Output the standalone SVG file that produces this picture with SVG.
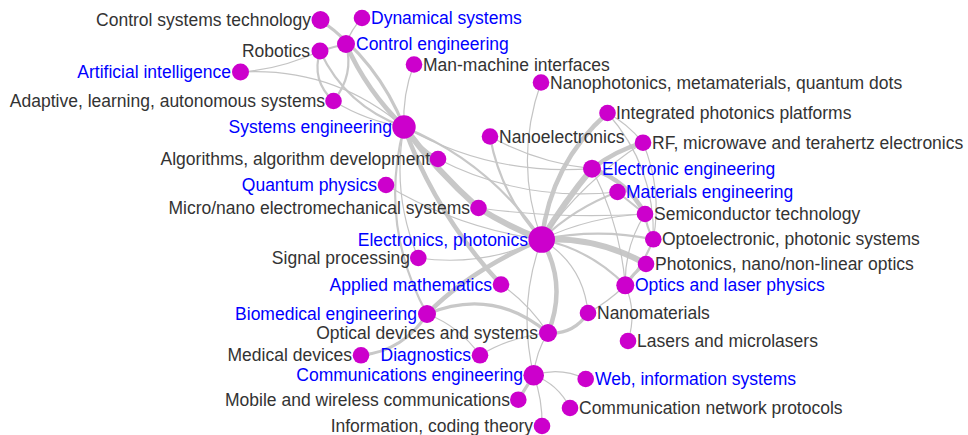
<svg xmlns="http://www.w3.org/2000/svg" width="968" height="435" viewBox="0 0 968 435">
<style>
.e{fill:none;stroke:#c8c8c8;stroke-linecap:round}
.w1{stroke-width:1.2;stroke:#c4c4c4}
.w2{stroke-width:2.2}
.w3{stroke-width:3.2}
.w4{stroke-width:4.5}
.w5{stroke-width:6}
circle{fill:#cc00cc}
text{font-family:"Liberation Sans",Arial,sans-serif;font-size:17.5px}
.d{fill:#333333}
.b{fill:#0000ff}
.r{text-anchor:end}
</style>
<rect width="968" height="435" fill="#ffffff"/>
<g id="edges">
<path class="e w3" d="M320.5,20 Q378,61 404,127"/>
<path class="e w4" d="M346,44 Q366.6,90.8 404,127"/>
<path class="e w1" d="M362,18 Q351.5,29 346,44"/>
<path class="e w2" d="M320,51 Q333,47 346,44"/>
<path class="e w2" d="M320,51 Q311,80.8 333.5,101"/>
<path class="e w2" d="M320,51 Q345.8,106.2 404,127"/>
<path class="e w1" d="M240.5,72 Q281,69.3 320,51"/>
<path class="e w1" d="M240.5,72 Q333,66.7 404,127"/>
<path class="e w2" d="M346,44 Q354.5,75 333.5,101"/>
<path class="e w1" d="M333.5,101 Q366.4,121 404,127"/>
<path class="e w1" d="M414,64.5 Q402.2,94.6 404,127"/>
<path class="e w2" d="M404,127 Q417.8,146.4 438,159"/>
<path class="e w5" d="M404,127 Q437,171.2 478.5,208"/>
<path class="e w4" d="M404,127 Q436.3,215.1 501,284.5"/>
<path class="e w2" d="M404,127 Q489.8,162.3 541.7,239.5"/>
<path class="e w5" d="M478.5,208 Q508.5,226.7 541.7,239.5"/>
<path class="e w1" d="M404,127 Q491.7,176.2 592,168.7"/>
<path class="e w1" d="M438,159 Q522,202.2 617.5,192"/>
<path class="e w1" d="M404,127 Q391.4,194.6 418.3,258"/>
<path class="e w2" d="M404,127 Q378.3,224.6 427,314"/>
<path class="e w1" d="M386,185 Q458.2,228.2 541.7,239.5"/>
<path class="e w1" d="M418.3,258 Q482.9,267.1 541.7,239.5"/>
<path class="e w1" d="M501,284.5 Q528.3,303.3 548,333"/>
<path class="e w4" d="M427,314 Q470,270 541.7,239.5"/>
<path class="e w3" d="M427,314 Q492.7,286.5 548,333"/>
<path class="e w1" d="M427,314 Q459.3,326.2 480,355.3"/>
<path class="e w3" d="M361,355.3 Q404,350.75 427,314"/>
<path class="e w1" d="M480,355.3 Q510.7,336.7 548,333"/>
<path class="e w4" d="M541.7,239.5 Q567.75,284.25 548,333"/>
<path class="e w1" d="M541.7,239.5 Q517.1,305.65 533.7,375.3"/>
<path class="e w1" d="M548,333 Q535.7,352.1 533.7,375.3"/>
<path class="e w3" d="M533.7,375.3 L518.3,399.7"/>
<path class="e w1" d="M533.7,375.3 Q542.6,399.6 542,426"/>
<path class="e w1" d="M533.7,375.3 Q559.8,366.6 585.7,379"/>
<path class="e w1" d="M533.7,375.3 Q558.1,384.1 570,408"/>
<path class="e w3" d="M548,333 Q573.2,334.8 588,313"/>
<path class="e w1" d="M541.7,239.5 Q583.5,264.5 588,313"/>
<path class="e w1" d="M588,313 Q608,302 625.3,285.3"/>
<path class="e w1" d="M625.3,285.3 Q637.2,312.6 628,341"/>
<path class="e w2" d="M541.7,239.5 Q590.4,249.5 625.3,285.3"/>
<path class="e w5" d="M541.7,239.5 Q597.4,236.55 646,264"/>
<path class="e w3" d="M646,264 Q633,273 625.3,285.3"/>
<path class="e w2" d="M541.7,239.5 Q597.5,227.9 653.3,239.3"/>
<path class="e w1" d="M541.7,239.5 Q591,216.2 645,214"/>
<path class="e w2" d="M541.7,239.5 Q574.3,208.1 617.5,192"/>
<path class="e w5" d="M541.7,239.5 Q564.7,201.5 592,168.7"/>
<path class="e w4" d="M541.7,239.5 Q551,163 607.5,113"/>
<path class="e w1" d="M541,82.5 Q513.4,161.2 541.7,239.5"/>
<path class="e w2" d="M490,136.5 Q500.55,195.3 541.7,239.5"/>
<path class="e w1" d="M541.7,239.5 Q582.9,180.9 643,142.7"/>
<path class="e w4" d="M592,168.7 Q614.9,150.9 643,142.7"/>
<path class="e w4" d="M592,168.7 Q627.5,180.9 645,214"/>
<path class="e w1" d="M607.5,113 Q655.2,166.8 653.3,239.3"/>
<path class="e w2" d="M617.5,192 L645,214"/>
<path class="e w2" d="M645,214 Q646.5,227.3 653.3,239.3"/>
<path class="e w2" d="M625.3,285.3 Q643.6,264.8 653.3,239.3"/>
<path class="e w1" d="M625.3,285.3 Q624.35,246.5 645,214"/>
<path class="e w1" d="M625.3,285.3 Q620.1,223.7 592,168.7"/>
<path class="e w1" d="M643,142.7 Q662.4,189.5 653.3,239.3"/>
<path class="e w1" d="M490,136.5 Q537.7,162.7 592,168.7"/>
<path class="e w1" d="M478.5,208 Q561.2,219.35 645,214"/>
<path class="e w1" d="M607.5,113 Q628,124 643,142.7"/>
</g>
<g id="n-cst"><circle cx="320.5" cy="20" r="9"/><text class="d r" x="311" y="26">Control systems technology</text></g>
<g id="n-dyn"><circle cx="362" cy="18" r="8.3"/><text class="b" x="371" y="24">Dynamical systems</text></g>
<g id="n-ce"><circle cx="346" cy="44" r="9"/><text class="b" x="356" y="50">Control engineering</text></g>
<g id="n-rob"><circle cx="320" cy="51" r="8.5"/><text class="d r" x="310" y="57">Robotics</text></g>
<g id="n-mmi"><circle cx="414" cy="64.5" r="8.3"/><text class="d" x="423" y="70.5">Man-machine interfaces</text></g>
<g id="n-ai"><circle cx="240.5" cy="72" r="8.5"/><text class="b r" x="231" y="78">Artificial intelligence</text></g>
<g id="n-ada"><circle cx="333.5" cy="101" r="8.3"/><text class="d r" x="325" y="107">Adaptive, learning, autonomous systems</text></g>
<g id="n-se"><circle cx="404" cy="127" r="11.7"/><text class="b r" x="392" y="133">Systems engineering</text></g>
<g id="n-nph"><circle cx="541" cy="82.5" r="8.3"/><text class="d" x="550" y="88.5">Nanophotonics, metamaterials, quantum dots</text></g>
<g id="n-ipp"><circle cx="607.5" cy="113" r="8.3"/><text class="d" x="616" y="119">Integrated photonics platforms</text></g>
<g id="n-nel"><circle cx="490" cy="136.5" r="8.3"/><text class="d" x="499" y="142.5">Nanoelectronics</text></g>
<g id="n-rf"><circle cx="643" cy="142.7" r="8.3"/><text class="d" x="652" y="148.7">RF, microwave and terahertz electronics</text></g>
<g id="n-ee"><circle cx="592" cy="168.7" r="9"/><text class="b" x="602" y="174.7">Electronic engineering</text></g>
<g id="n-alg"><circle cx="438" cy="159" r="8.3"/><text class="d r" x="430" y="165">Algorithms, algorithm development</text></g>
<g id="n-mat"><circle cx="617.5" cy="192" r="8.3"/><text class="b" x="626" y="198">Materials engineering</text></g>
<g id="n-qp"><circle cx="386" cy="185" r="8.3"/><text class="b r" x="377" y="191">Quantum physics</text></g>
<g id="n-mems"><circle cx="478.5" cy="208" r="8.3"/><text class="d r" x="470" y="214">Micro/nano electromechanical systems</text></g>
<g id="n-semi"><circle cx="645" cy="214" r="8.3"/><text class="d" x="654" y="220">Semiconductor technology</text></g>
<g id="n-ep"><circle cx="541.7" cy="239.5" r="13.3"/><text class="b r" x="528" y="245.5">Electronics, photonics</text></g>
<g id="n-opto"><circle cx="653.3" cy="239.3" r="8.3"/><text class="d" x="662" y="245.3">Optoelectronic, photonic systems</text></g>
<g id="n-sig"><circle cx="418.3" cy="258" r="8.3"/><text class="d r" x="410" y="264">Signal processing</text></g>
<g id="n-pho"><circle cx="646" cy="264" r="8.3"/><text class="d" x="655" y="270">Photonics, nano/non-linear optics</text></g>
<g id="n-am"><circle cx="501" cy="284.5" r="8.3"/><text class="b r" x="492" y="290.5">Applied mathematics</text></g>
<g id="n-olp"><circle cx="625.3" cy="285.3" r="9"/><text class="b" x="635" y="291.3">Optics and laser physics</text></g>
<g id="n-bio"><circle cx="427" cy="314" r="9"/><text class="b r" x="417" y="320">Biomedical engineering</text></g>
<g id="n-nmat"><circle cx="588" cy="313" r="8.3"/><text class="d" x="597" y="319">Nanomaterials</text></g>
<g id="n-ods"><circle cx="548" cy="333" r="9"/><text class="d r" x="538" y="339">Optical devices and systems</text></g>
<g id="n-las"><circle cx="628" cy="341" r="8.3"/><text class="d" x="637" y="347">Lasers and microlasers</text></g>
<g id="n-med"><circle cx="361" cy="355.3" r="8.3"/><text class="d r" x="352" y="361.3">Medical devices</text></g>
<g id="n-dia"><circle cx="480" cy="355.3" r="8.3"/><text class="b r" x="471" y="361.3">Diagnostics</text></g>
<g id="n-com"><circle cx="533.7" cy="375.3" r="10.3"/><text class="b r" x="523" y="381.3">Communications engineering</text></g>
<g id="n-web"><circle cx="585.7" cy="379" r="8.3"/><text class="b" x="595" y="385">Web, information systems</text></g>
<g id="n-mob"><circle cx="518.3" cy="399.7" r="8.3"/><text class="d r" x="510" y="405.7">Mobile and wireless communications</text></g>
<g id="n-cnp"><circle cx="570" cy="408" r="8.3"/><text class="d" x="579" y="414">Communication network protocols</text></g>
<g id="n-ict"><circle cx="542" cy="426" r="8.3"/><text class="d r" x="533" y="432">Information, coding theory</text></g>
</svg>
